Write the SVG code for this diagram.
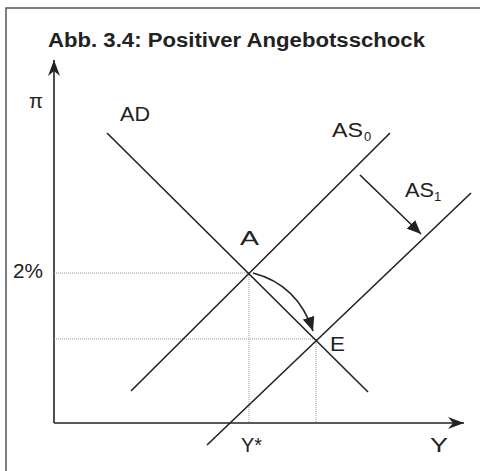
<svg xmlns="http://www.w3.org/2000/svg" width="480" height="471" viewBox="0 0 480 471">
<style>
.bg{fill:#fff}
.frame{fill:none;stroke:#555;stroke-width:1.5}
.ax{fill:none;stroke:#222;stroke-width:1.6}
.ln{fill:none;stroke:#222;stroke-width:1.6}
.dot{fill:none;stroke:#999;stroke-width:1;stroke-dasharray:1 1}
.t{font-family:"Liberation Sans",Arial,sans-serif;font-size:19.5px;fill:#222}
.s{font-size:13px}
.title{font-family:"Liberation Sans",Arial,sans-serif;font-size:20px;font-weight:bold;fill:#222}
</style>
<defs>
<marker id="ah" markerUnits="userSpaceOnUse" markerWidth="16" markerHeight="12" refX="14" refY="6" orient="auto">
<path d="M0,0 L14,6 L0,12 Z" fill="#222"/>
</marker>
<marker id="axh" markerUnits="userSpaceOnUse" markerWidth="18" markerHeight="14" refX="16" refY="7" orient="auto">
<path d="M0,1 L16,7 L0,13 L5,7 Z" fill="#222"/>
</marker>
</defs>
<rect class="bg" x="0" y="0" width="480" height="471"/>
<rect class="frame" x="6" y="8" width="480" height="470"/>
<text class="title" x="48" y="47" textLength="377" lengthAdjust="spacingAndGlyphs">Abb. 3.4: Positiver Angebotsschock</text>
<g id="axes">
<line class="ax" x1="54" y1="423" x2="54" y2="60" marker-end="url(#axh)"/>
<line class="ax" x1="54" y1="423" x2="464" y2="423" marker-end="url(#axh)"/>
</g>
<g id="guides">
<line class="dot" x1="54" y1="273" x2="249" y2="273"/>
<line class="dot" x1="249" y1="273" x2="249" y2="423"/>
<line class="dot" x1="54" y1="339" x2="316" y2="339"/>
<line class="dot" x1="316" y1="339" x2="316" y2="423"/>
</g>
<g id="AD">
<line class="ln" x1="107" y1="133" x2="368" y2="392"/>
<text class="t" x="120" y="121" textLength="30" lengthAdjust="spacingAndGlyphs">AD</text>
</g>
<g id="AS0">
<line class="ln" x1="390" y1="133" x2="131" y2="391"/>
<text class="t" x="332" y="137" textLength="31" lengthAdjust="spacingAndGlyphs">AS</text>
<text class="t s" x="364" y="141">0</text>
</g>
<g id="AS1">
<line class="ln" x1="471" y1="193" x2="207" y2="445"/>
<text class="t" x="405" y="197" textLength="29" lengthAdjust="spacingAndGlyphs">AS</text>
<text class="t s" x="434" y="201">1</text>
</g>
<g id="connectors">
<line class="ln" x1="360" y1="175" x2="421" y2="234" stroke-width="1.3" marker-end="url(#ah)"/>
<path class="ln" d="M253,273 C280,280 302,298 313,331" stroke-width="1.3" marker-end="url(#ah)"/>
</g>
<g id="labels">
<text class="t" x="29" y="108" textLength="14" lengthAdjust="spacingAndGlyphs">π</text>
<text class="t" x="13" y="278" textLength="30" lengthAdjust="spacingAndGlyphs">2%</text>
<text class="t" x="240" y="245" textLength="19" lengthAdjust="spacingAndGlyphs">A</text>
<text class="t" x="330" y="351" textLength="15" lengthAdjust="spacingAndGlyphs">E</text>
<text class="t" x="241" y="452" textLength="21" lengthAdjust="spacingAndGlyphs">Y*</text>
<text class="t" x="430" y="452" textLength="18" lengthAdjust="spacingAndGlyphs">Y</text>
</g>
</svg>
